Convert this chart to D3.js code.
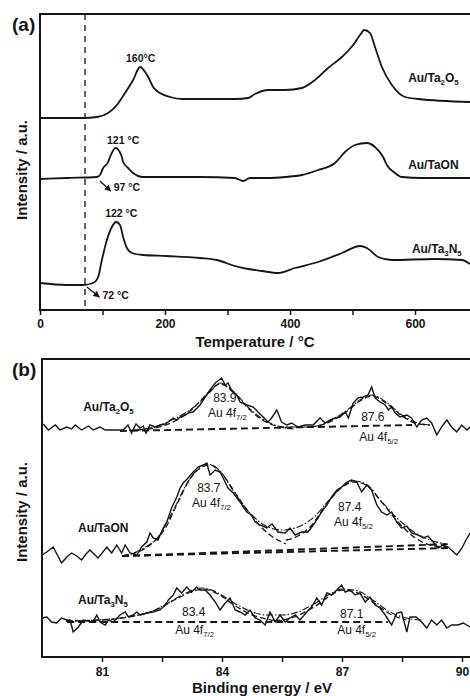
<!DOCTYPE html>
<html>
<head>
<meta charset="UTF-8">
<style>
body{margin:0;background:#fff;}
svg{display:block;font-family:Arial,"Liberation Sans",sans-serif;}
.frame{fill:none;stroke:#151515;stroke-width:2;}
.axis path{display:none;}
.axis line{stroke:#151515;stroke-width:1.5;}
.axis text{font-size:12px;font-weight:bold;fill:#151515;font-family:Arial,"Liberation Sans",sans-serif;}
.curve{fill:none;stroke:#151515;stroke-width:1.8;stroke-linejoin:round;}
.raw{fill:none;stroke:#151515;stroke-width:1.4;stroke-linejoin:miter;}
.dash{fill:none;stroke:#151515;stroke-width:1.3;stroke-dasharray:6,3;}
.base{fill:none;stroke:#151515;stroke-width:1.9;stroke-dasharray:7,4;}
.dashdot{fill:none;stroke:#151515;stroke-width:1.1;stroke-dasharray:7,2,1.5,2;}
.lbl{font-size:12px;font-weight:bold;fill:#151515;}
.ann{font-size:10.5px;font-weight:bold;fill:#151515;}
.num{font-size:12px;fill:#151515;}
.title{font-size:15px;font-weight:bold;fill:#151515;}
</style>
</head>
<body>
<svg width="470" height="696"></svg>
<script src="https://cdn.jsdelivr.net/npm/d3@7"></script>
<script>
// ---- panel (a): temperature (°C) vs intensity (a.u.)
var ta2o5T = [0, 69, 91, 109, 123, 136, 149, 160, 173, 181, 192, 208, 227, 256, 312, 333, 344, 365, 392, 419, 440, 461, 483, 501, 512, 519, 528, 536, 547, 563, 584, 605, 688];
var ta2o5I = [192, 192, 193, 197, 205, 217, 230, 243, 233, 223, 217, 213, 211, 211, 211, 212, 216, 220, 220, 222, 230, 242, 253, 265, 275, 280, 277, 263, 243, 225, 213, 211, 208];

var taonT = [0, 43, 91, 96, 101, 109, 112, 121, 131, 133, 141, 149, 165, 203, 256, 312, 325, 336, 365, 392, 419, 445, 472, 488, 504, 523, 536, 549, 555, 568, 579, 611, 688];
var taonI = [131, 132, 133, 135, 142, 148, 153, 162, 153, 148, 142, 137, 133, 133, 133, 132, 129, 132, 132, 133, 135, 140, 147, 158, 165, 167, 163, 153, 145, 137, 133, 132, 132];

var ta3n5T = [0, 43, 69, 85, 93, 99, 107, 115, 122, 128, 133, 139, 147, 165, 203, 256, 283, 312, 333, 355, 381, 408, 445, 483, 512, 523, 541, 563, 632, 675, 688];
var ta3n5I = [27, 25, 25, 27, 33, 50, 70, 83, 88, 85, 73, 62, 57, 55, 54, 52, 50, 44, 41, 39, 37, 42, 48, 57, 64, 62, 53, 50, 51, 50, 46];

var tempTicks = [0, 100, 200, 300, 400, 500, 600, 700];
var onsetT = 72;

// ---- panel (b): Au 4f XPS, binding energy (eV) vs intensity (a.u.)
var xpsOE = [79.53, 79.66, 79.83, 79.95, 80.12, 80.24, 80.33, 80.49, 80.66, 80.78, 80.95, 81.08, 81.33, 81.53, 81.65, 81.74, 81.85, 81.95, 82.03, 82.1, 82.2, 82.33, 82.45, 82.58, 82.65, 82.78, 82.87, 82.95, 83.08, 83.16, 83.28, 83.45, 83.58, 83.7, 83.83, 83.99, 84.08, 84.15, 84.24, 84.37, 84.45, 84.62, 84.78, 84.9, 85.03, 85.15, 85.24, 85.37, 85.49, 85.62, 85.74, 85.9, 86.08, 86.28, 86.45, 86.58, 86.7, 86.83, 86.95, 87.08, 87.16, 87.28, 87.4, 87.53, 87.65, 87.74, 87.83, 87.95, 88.08, 88.16, 88.24, 88.33, 88.45, 88.62, 88.74, 88.87, 88.99, 89.12, 89.24, 89.37, 89.49, 89.62, 89.74, 89.87, 89.99, 90.12, 90.2];
var xpsOI = [233, 227, 232, 227, 230, 228, 232, 227, 231, 227, 230, 227, 227, 227, 232, 224, 233, 229, 231, 224, 232, 230, 232, 233, 235, 239, 237, 240, 242, 244, 245, 252, 260, 267, 274, 279, 272, 274, 267, 262, 255, 252, 250, 245, 240, 235, 239, 247, 235, 232, 234, 230, 232, 232, 239, 234, 237, 239, 240, 245, 239, 254, 259, 260, 262, 270, 259, 255, 252, 247, 250, 244, 240, 242, 239, 230, 237, 239, 234, 222, 230, 237, 230, 225, 232, 227, 230];

var xpsNE = [79.5, 79.62, 79.78, 79.99, 80.12, 80.24, 80.37, 80.49, 80.6, 80.7, 80.9, 81.12, 81.24, 81.37, 81.49, 81.58, 81.7, 81.87, 81.99, 82.12, 82.2, 82.28, 82.4, 82.53, 82.62, 82.74, 82.87, 82.95, 83.03, 83.15, 83.28, 83.4, 83.53, 83.62, 83.7, 83.83, 83.95, 84.03, 84.15, 84.28, 84.45, 84.62, 84.74, 84.83, 84.95, 85.12, 85.25, 85.4, 85.58, 85.7, 85.83, 85.99, 86.15, 86.28, 86.4, 86.49, 86.62, 86.74, 86.87, 86.99, 87.12, 87.24, 87.37, 87.49, 87.62, 87.74, 87.87, 87.99, 88.12, 88.24, 88.37, 88.49, 88.62, 88.74, 88.9, 89.03, 89.15, 89.28, 89.4, 89.53, 89.65, 89.87, 90.0, 90.1, 90.2];
var xpsNI = [102, 105, 110, 94, 100, 104, 101, 97, 103, 107, 99, 110, 104, 112, 104, 112, 104, 102, 110, 115, 124, 119, 117, 129, 135, 149, 160, 169, 174, 179, 185, 190, 192, 194, 182, 187, 185, 179, 169, 164, 155, 145, 142, 135, 132, 129, 133, 125, 124, 129, 122, 125, 125, 132, 139, 145, 152, 160, 167, 170, 175, 177, 175, 165, 172, 167, 152, 145, 142, 145, 135, 129, 131, 124, 122, 119, 121, 115, 109, 112, 110, 102, 109, 117, 124];

var xpsSE = [79.5, 79.62, 79.74, 79.87, 79.99, 80.12, 80.2, 80.28, 80.41, 80.53, 80.65, 80.78, 80.87, 80.95, 81.08, 81.16, 81.28, 81.45, 81.58, 81.66, 81.78, 81.87, 81.95, 82.12, 82.28, 82.45, 82.58, 82.66, 82.78, 82.87, 82.99, 83.12, 83.24, 83.37, 83.45, 83.58, 83.7, 83.83, 83.95, 84.08, 84.2, 84.33, 84.45, 84.58, 84.7, 84.83, 84.95, 85.08, 85.2, 85.33, 85.45, 85.58, 85.7, 85.83, 85.95, 86.12, 86.24, 86.37, 86.49, 86.62, 86.74, 86.87, 86.99, 87.08, 87.2, 87.33, 87.45, 87.58, 87.7, 87.83, 87.95, 88.08, 88.24, 88.37, 88.49, 88.62, 88.7, 88.85, 88.99, 89.12, 89.24, 89.37, 89.49, 89.62, 89.74, 89.9, 90.03, 90.2];
var xpsSI = [39, 40, 35, 34, 39, 37, 37, 25, 30, 37, 36, 35, 42, 35, 32, 37, 35, 42, 45, 40, 42, 45, 42, 44, 45, 47, 52, 57, 62, 69, 64, 70, 65, 70, 67, 67, 62, 55, 47, 54, 59, 47, 45, 42, 47, 39, 37, 32, 45, 35, 42, 35, 39, 42, 37, 45, 50, 59, 52, 64, 62, 67, 72, 65, 67, 62, 64, 55, 60, 52, 49, 42, 32, 44, 45, 25, 40, 40, 35, 29, 37, 32, 37, 29, 32, 32, 34, 30];

// fits: envelope (dash-dot), two components and background (dashed)
var fitOEnvE = [81.45, 82.2, 82.8, 83.3, 83.7, 83.95, 84.3, 84.7, 85.1, 85.6, 86.2, 86.7, 87.1, 87.45, 87.75, 88.1, 88.5, 88.9, 89.2];
var fitOEnvI = [226, 229, 238, 250, 265, 274, 265, 248, 236, 230, 230, 236, 246, 257, 262, 255, 242, 234, 232];
var fitO1E = [81.9, 82.6, 83.2, 83.6, 83.95, 84.3, 84.7, 85.2, 85.8];
var fitO1I = [227, 232, 246, 262, 273, 264, 247, 233, 228];
var fitO2E = [86.2, 86.7, 87.1, 87.45, 87.75, 88.1, 88.5, 88.9, 89.2];
var fitO2I = [230, 235, 245, 256, 261, 254, 241, 233, 232];
var bgOE = [81.45, 88.75];
var bgOI = [226, 232];

var fitNEnvE = [81.5, 82.0, 82.4, 82.8, 83.1, 83.4, 83.65, 83.95, 84.3, 84.7, 85.1, 85.5, 85.9, 86.3, 86.7, 87.0, 87.3, 87.6, 88.0, 88.4, 88.8, 89.2, 89.6];
var fitNEnvI = [101, 108, 120, 148, 172, 188, 193, 186, 165, 144, 131, 127, 130, 140, 158, 170, 176, 173, 155, 138, 125, 117, 113];
var fitN1E = [81.5, 82.2, 82.6, 82.9, 83.2, 83.5, 83.7, 84.0, 84.4, 84.8, 85.2, 85.6];
var fitN1I = [101, 112, 130, 155, 178, 190, 192, 183, 160, 138, 122, 113];
var fitN2E = [85.6, 85.9, 86.2, 86.6, 86.95, 87.3, 87.6, 87.95, 88.4, 88.8, 89.2, 89.6];
var fitN2I = [117, 121, 130, 152, 168, 175, 172, 157, 135, 120, 112, 110];
var bgN1E = [81.5, 89.7];
var bgN1I = [101, 113];
var bgN2E = [81.5, 89.7];
var bgN2I = [101, 109];

var fitSEnvE = [80.1, 80.9, 81.6, 82.2, 82.7, 83.1, 83.5, 83.9, 84.3, 84.7, 85.1, 85.5, 85.9, 86.3, 86.7, 87.0, 87.4, 87.8, 88.2, 88.6, 89.0];
var fitSEnvI = [36, 37, 40, 45, 55, 64, 69, 64, 54, 46, 42, 42, 45, 53, 63, 68, 66, 56, 45, 39, 37];
var fitS1E = [80.1, 81.0, 81.8, 82.4, 82.9, 83.3, 83.5, 83.9, 84.3, 84.7, 85.1, 85.5];
var fitS1I = [36, 37, 41, 48, 59, 66, 68, 63, 52, 43, 38, 36];
var fitS2E = [85.3, 85.8, 86.3, 86.7, 87.0, 87.4, 87.8, 88.2, 88.6];
var fitS2I = [36, 40, 50, 61, 67, 64, 54, 43, 37];
var bgSE = [80.13, 88.15];
var bgSI = [35, 35];

var beTicks = [81, 82.5, 84, 85.5, 87, 88.5, 90];

function zip(xs, ys) { return xs.map(function(x, i) { return [x, ys[i]]; }); }

var svg = d3.select("svg");

// ---------------- panel (a)
var xa = d3.scaleLinear().domain([0, 688]).range([40, 470]),
    ya = d3.scaleLinear().domain([0, 296]).range([310, 14]);

svg.append("clipPath").attr("id", "clipA").append("rect")
    .attr("x", 40).attr("y", 14).attr("width", 430).attr("height", 296);

var ga = svg.append("g");
var lineA = d3.line().curve(d3.curveMonotoneX)
    .x(function(d) { return xa(d[0]); })
    .y(function(d) { return ya(d[1]); });

ga.append("line")
    .attr("x1", xa(onsetT)).attr("x2", xa(onsetT))
    .attr("y1", ya(296)).attr("y2", ya(0))
    .attr("stroke", "#151515").attr("stroke-width", 1.3).attr("stroke-dasharray", "6,5");

[[ta2o5T, ta2o5I], [taonT, taonI], [ta3n5T, ta3n5I]].forEach(function(s) {
  ga.append("path").attr("class", "curve").attr("clip-path", "url(#clipA)")
      .attr("d", lineA(zip(s[0], s[1])));
});

ga.append("g").attr("class", "axis")
    .attr("transform", "translate(0," + ya(0) + ")")
    .call(d3.axisBottom(xa).tickValues(tempTicks).tickSize(5).tickPadding(4)
      .tickFormat(function(d) { return d % 200 === 0 ? d : ""; }));

ga.append("path").attr("class", "frame")
    .attr("d", "M470," + ya(296) + "H" + xa(0) + "V" + ya(0) + "H470");

function sublabel(g, cls, x, y, parts, anchor) {
  var t = g.append("text").attr("class", cls).attr("x", x).attr("y", y)
      .attr("text-anchor", anchor || "start");
  var shifted = false;
  parts.forEach(function(p) {
    var s = t.append("tspan").text(p[0]);
    if (p[1] && !shifted) { s.attr("dy", 3).style("font-size", "0.65em"); shifted = true; }
    else if (!p[1] && shifted) { s.attr("dy", -3); shifted = false; }
    else if (p[1]) { s.style("font-size", "0.65em"); }
  });
  return t;
}

sublabel(ga, "lbl", xa(589), ya(228), [["Au/Ta"], ["2", 1], ["O"], ["5", 1]]);
sublabel(ga, "lbl", xa(589), ya(141), [["Au/TaON"]]);
sublabel(ga, "lbl", xa(595), ya(57), [["Au/Ta"], ["3", 1], ["N"], ["5", 1]]);

ga.append("text").attr("class", "ann").attr("x", xa(161)).attr("y", ya(248))
    .attr("text-anchor", "middle").text("160\u00b0C");
ga.append("text").attr("class", "ann").attr("x", xa(133)).attr("y", ya(166))
    .attr("text-anchor", "middle").text("121 \u00b0C");
ga.append("text").attr("class", "ann").attr("x", xa(130)).attr("y", ya(93))
    .attr("text-anchor", "middle").text("122 \u00b0C");
ga.append("text").attr("class", "ann").attr("x", xa(118)).attr("y", ya(119)).text("97 \u00b0C");
ga.append("text").attr("class", "ann").attr("x", xa(100)).attr("y", ya(11)).text("72 \u00b0C");

svg.append("defs").append("marker").attr("id", "ah")
    .attr("viewBox", "0 0 10 10").attr("refX", 9).attr("refY", 5)
    .attr("markerWidth", 5).attr("markerHeight", 5).attr("orient", "auto")
  .append("path").attr("d", "M0,0L10,5L0,10z").attr("fill", "#151515");

[[96, 129, 113, 119], [75, 23, 95, 13]].forEach(function(a) {
  ga.append("line").attr("x1", xa(a[0])).attr("y1", ya(a[1]))
      .attr("x2", xa(a[2])).attr("y2", ya(a[3]))
      .attr("stroke", "#151515").attr("stroke-width", 1.3)
      .attr("marker-end", "url(#ah)");
});

ga.append("text").attr("class", "title").attr("x", 255).attr("y", 347)
    .attr("text-anchor", "middle").text("Temperature / \u00b0C");
ga.append("text").attr("class", "title")
    .attr("transform", "translate(27,170) rotate(-90)")
    .attr("text-anchor", "middle").text("Intensity / a.u.");
ga.append("text").attr("x", 12).attr("y", 31)
    .style("font-size", "19px").style("font-weight", "bold").attr("fill", "#151515").text("(a)");

// ---------------- panel (b)
var xb = d3.scaleLinear().domain([79.5, 90.2]).range([42, 470]),
    yb = d3.scaleLinear().domain([0, 298]).range([657, 359]);

svg.append("clipPath").attr("id", "clipB").append("rect")
    .attr("x", 42).attr("y", 359).attr("width", 428).attr("height", 298);

var gb = svg.append("g");
var rawLine = d3.line()
    .x(function(d) { return xb(d[0]); })
    .y(function(d) { return yb(d[1]); });
var fitLine = d3.line().curve(d3.curveMonotoneX)
    .x(function(d) { return xb(d[0]); })
    .y(function(d) { return yb(d[1]); });

var plots = gb.append("g").attr("clip-path", "url(#clipB)");

[[bgOE, bgOI], [bgN1E, bgN1I], [bgN2E, bgN2I], [bgSE, bgSI]].forEach(function(s) {
  plots.append("path").attr("class", "base").attr("d", rawLine(zip(s[0], s[1])));
});
[[fitO1E, fitO1I], [fitO2E, fitO2I], [fitN1E, fitN1I], [fitN2E, fitN2I], [fitS1E, fitS1I], [fitS2E, fitS2I]].forEach(function(s) {
  plots.append("path").attr("class", "dash").attr("d", fitLine(zip(s[0], s[1])));
});
[[fitOEnvE, fitOEnvI], [fitNEnvE, fitNEnvI], [fitSEnvE, fitSEnvI]].forEach(function(s) {
  plots.append("path").attr("class", "dashdot").attr("d", fitLine(zip(s[0], s[1])));
});
[[xpsOE, xpsOI], [xpsNE, xpsNI], [xpsSE, xpsSI]].forEach(function(s) {
  plots.append("path").attr("class", "raw").attr("d", rawLine(zip(s[0], s[1])));
});

gb.append("g").attr("class", "axis")
    .attr("transform", "translate(0," + yb(0) + ")")
    .call(d3.axisBottom(xb).tickValues(beTicks).tickSize(5).tickPadding(5)
      .tickFormat(function(d) { return d % 3 === 0 ? d : ""; }));

gb.append("path").attr("class", "frame")
    .attr("d", "M470," + yb(298) + "H" + xb(79.5) + "V" + yb(0) + "H470");

sublabel(gb, "lbl", xb(80.53), yb(246), [["Au/Ta"], ["2", 1], ["O"], ["5", 1]]);
sublabel(gb, "lbl", xb(80.4), yb(125), [["Au/TaON"]]);
sublabel(gb, "lbl", xb(80.4), yb(53), [["Au/Ta"], ["3", 1], ["N"], ["5", 1]]);

var peaks = [
  ["83.9", 83.78, 255, "7/2", 83.65, 240],
  ["87.6", 87.48, 236, "5/2", 87.43, 216],
  ["83.7", 83.38, 165, "7/2", 83.25, 150],
  ["87.4", 86.9, 146, "5/2", 86.8, 131],
  ["83.4", 83.0, 41, "7/2", 82.83, 23],
  ["87.1", 86.95, 39, "5/2", 86.88, 23]
];
peaks.forEach(function(p) {
  gb.append("text").attr("class", "num").attr("x", xb(p[1])).attr("y", yb(p[2])).text(p[0]);
  sublabel(gb, "num", xb(p[4]), yb(p[5]), [["Au 4f"], [p[3], 1]]);
});

gb.append("text").attr("class", "title").attr("x", 262).attr("y", 693)
    .attr("text-anchor", "middle").text("Binding energy / eV");
gb.append("text").attr("class", "title")
    .attr("transform", "translate(27,512) rotate(-90)")
    .attr("text-anchor", "middle").text("Intensity / a.u.");
gb.append("text").attr("x", 12).attr("y", 376)
    .style("font-size", "19px").style("font-weight", "bold").attr("fill", "#151515").text("(b)");
</script>
</body>
</html>
